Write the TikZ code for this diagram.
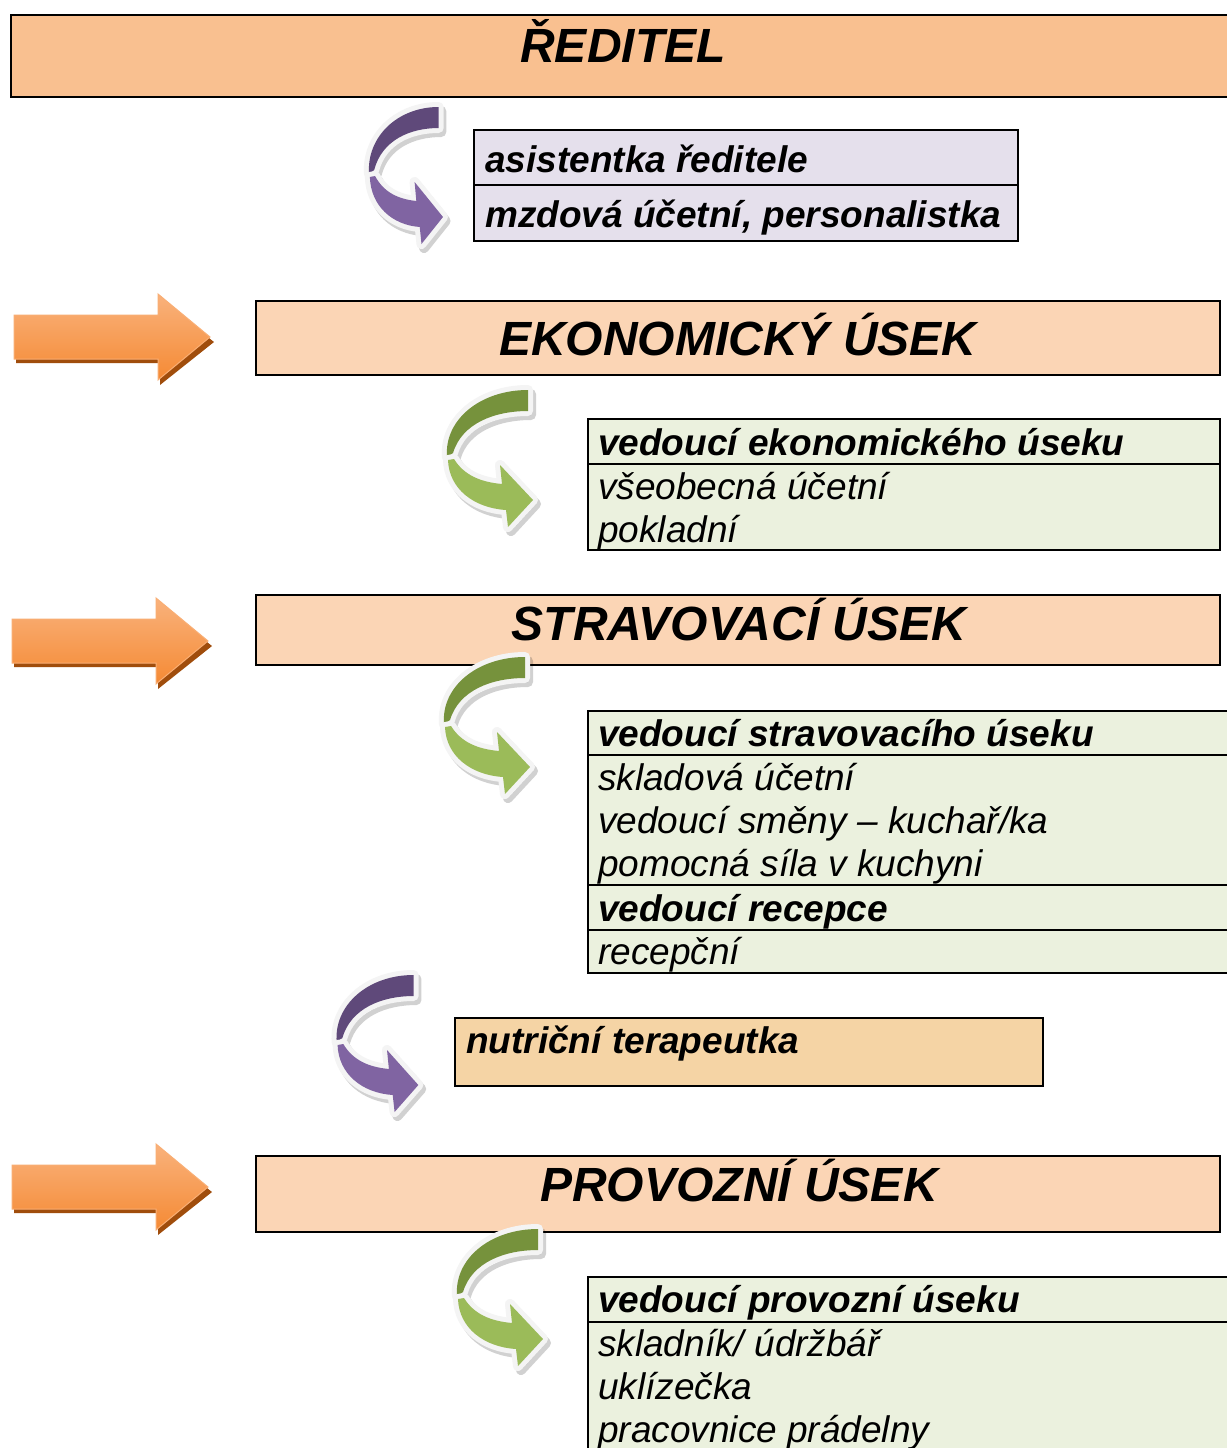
\documentclass[tikz,border=0pt]{standalone}
\usepackage{fontspec}
\setmainfont{Liberation Sans}
\definecolor{ceoFill}{HTML}{F9C090}
\definecolor{secFill}{HTML}{FBD5B5}
\definecolor{lavFill}{HTML}{E5E0EC}
\definecolor{grnFill}{HTML}{EBF1DE}
\definecolor{tanFill}{HTML}{F5D4A5}
\definecolor{purDark}{HTML}{5F497A}
\definecolor{purLight}{HTML}{8064A2}
\definecolor{grnDark}{HTML}{76923C}
\definecolor{grnLight}{HTML}{9BBB59}
\definecolor{orTop}{HTML}{F9B27C}
\definecolor{orBot}{HTML}{F58A34}
\definecolor{orEdge}{HTML}{F9AE74}
\definecolor{orShadow}{HTML}{A04D0C}
\definecolor{ribbonEdge}{HTML}{F4F4F4}
\tikzset{
  box/.style={draw=black, line width=2pt},
  divider/.style={draw=black, line width=1.6pt},
  titletext/.style={font=\fontsize{48}{52}\selectfont\bfseries\itshape, inner sep=0pt, anchor=base},
  boldtext/.style={font=\fontsize{37}{44}\selectfont\bfseries\itshape, inner sep=0pt, anchor=base west},
  plaintext/.style={font=\fontsize{37}{44}\selectfont\itshape, inner sep=0pt, anchor=base west},
  ribshadow/.style={fill=black, draw=black, line width=10pt, line join=round, opacity=0.18},
  ribedge/.style={draw=ribbonEdge, line width=10pt, line join=round},
}
% curved ribbon arrow: #1,#2 top-left, #3 xscale, #4 dark, #5 light
\newcommand\curvarrow[5]{%
\begin{scope}[shift={(#1,#2)}, xscale=#3]
  \path[ribshadow, shift={(3,4)}] (88,7) -- (88,28) .. controls (55,28) and (22,40) .. (13,70) -- (7,74) .. controls (4,37) and (40,7) .. (88,7) -- cycle;
  \path[ribedge] (88,7) -- (88,28) .. controls (55,28) and (22,40) .. (13,70) -- (7,74) .. controls (4,37) and (40,7) .. (88,7) -- cycle;
  \path[fill=#4] (88,7) -- (88,28) .. controls (55,28) and (22,40) .. (13,70) -- (7,74) .. controls (4,37) and (40,7) .. (88,7) -- cycle;
  \path[ribshadow, shift={(3,4)}] (14,76) .. controls (24,92) and (40,99) .. (62,101) -- (60,82) -- (93,117) -- (68,144) -- (66,127) .. controls (34,125) and (9,106) .. (8,77) -- cycle;
  \path[ribedge] (14,76) .. controls (24,92) and (40,99) .. (62,101) -- (60,82) -- (93,117) -- (68,144) -- (66,127) .. controls (34,125) and (9,106) .. (8,77) -- cycle;
  \path[fill=#5] (14,76) .. controls (24,92) and (40,99) .. (62,101) -- (60,82) -- (93,117) -- (68,144) -- (66,127) .. controls (34,125) and (9,106) .. (8,77) -- cycle;
\end{scope}}
% orange block arrow: #1 left x, #2 middle y
\newcommand\orangearrow[2]{%
  \fill[orShadow] ({#1+2},{#2-17}) -- ({#1+146},{#2-17}) -- ({#1+146},{#2-38}) -- ({#1+200},{#2+5}) -- ({#1+146},{#2+48}) -- ({#1+146},{#2+26}) -- ({#1+2},{#2+26}) -- cycle;
  \shade[top color=orTop, bottom color=orBot, draw=orEdge, line width=1pt, line join=miter]
    (#1,{#2-22}) -- ({#1+144},{#2-22}) -- ({#1+144},{#2-43}) -- ({#1+196},#2) -- ({#1+144},{#2+43}) -- ({#1+144},{#2+22}) -- (#1,{#2+22}) -- cycle;}
\begin{document}
\begin{tikzpicture}[x=1pt,y=-1pt]
\useasboundingbox[fill=white] (0,0) rectangle (1226,1448);

% ---------- ŘEDITEL ----------
\path[box, fill=ceoFill] (11,15) rectangle (1240,97);
\node[titletext] (reditel) at (623,62) {ŘEDITEL};

\curvarrow{363}{100}{0.86}{purDark}{purLight}

\path[box, fill=lavFill] (474,130) rectangle (1018,241);
\draw[divider] (474,185) -- (1018,185);
\node[boldtext] (asist) at (485,172) {asistentka ředitele};
\node[boldtext] (mzdova) at (485,227) {mzdová účetní, personalistka};

% ---------- EKONOMICKÝ ÚSEK ----------
\orangearrow{14}{337}
\path[box, fill=secFill] (256,301) rectangle (1220,375);
\node[titletext] (eko) at (738,355) {EKONOMICKÝ ÚSEK};

\curvarrow{440}{383}{1}{grnDark}{grnLight}

\path[box, fill=grnFill] (588,419) rectangle (1220,550);
\draw[divider] (588,464) -- (1220,464);
\node[boldtext] (vedeko) at (598,455) {vedoucí ekonomického úseku};
\node[plaintext] (vseob) at (598,499) {všeobecná účetní};
\node[plaintext] (poklad) at (598,542) {pokladní};

% ---------- STRAVOVACÍ ÚSEK ----------
\orangearrow{12}{641}
\path[box, fill=secFill] (256,595) rectangle (1220,665);
\node[titletext] (strav) at (739,640) {STRAVOVACÍ ÚSEK};

\curvarrow{437}{650}{1}{grnDark}{grnLight}

\path[box, fill=grnFill] (588,711) rectangle (1240,973);
\draw[divider] (588,755) -- (1240,755);
\draw[divider] (588,885) -- (1240,885);
\draw[divider] (588,930) -- (1240,930);
\node[boldtext] (vedstrav) at (598,746) {vedoucí stravovacího úseku};
\node[plaintext] (sklad) at (598,790) {skladová účetní};
\node[plaintext] (smena) at (598,833) {vedoucí směny – kuchař/ka};
\node[plaintext] (pomoc) at (598,876) {pomocná síla v kuchyni};
\node[boldtext] (vedrec) at (598,921) {vedoucí recepce};
\node[plaintext] (recep) at (598,964) {recepční};

\curvarrow{330}{968}{0.95}{purDark}{purLight}

\path[box, fill=tanFill] (455,1018) rectangle (1043,1086);
\node[boldtext] (nutri) at (466,1053) {nutriční terapeutka};

% ---------- PROVOZNÍ ÚSEK ----------
\orangearrow{12}{1187}
\path[box, fill=secFill] (256,1156) rectangle (1220,1232);
\node[titletext] (provoz) at (739,1201) {PROVOZNÍ ÚSEK};

\curvarrow{450}{1222}{1}{grnDark}{grnLight}

\path[box, fill=grnFill] (588,1277) rectangle (1240,1460);
\draw[divider] (588,1322) -- (1240,1322);
\node[boldtext] (vedprov) at (598,1312) {vedoucí provozní úseku};
\node[plaintext] (skladnik) at (598,1356) {skladník/ údržbář};
\node[plaintext] (uklid) at (598,1399) {uklízečka};
\node[plaintext] (pradel) at (598,1442) {pracovnice prádelny};
\end{tikzpicture}
\end{document}
